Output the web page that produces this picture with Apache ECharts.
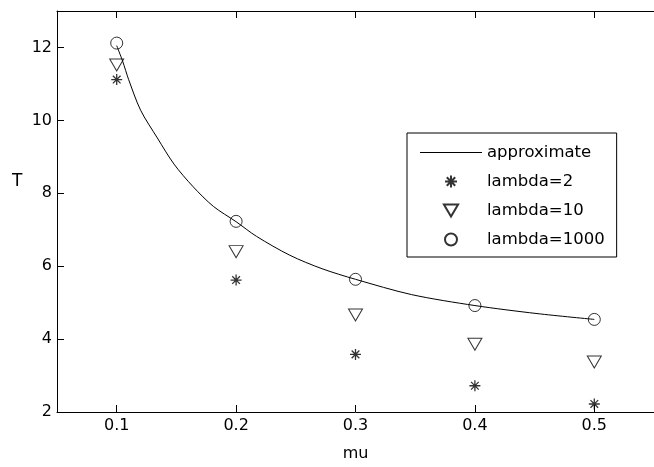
<!DOCTYPE html>
<html>
<head>
<meta charset="utf-8">
<script src="https://cdn.jsdelivr.net/npm/echarts@6/dist/echarts.min.js"></script>
<style>
  html, body { margin: 0; padding: 0; background: #fff; }
  #chart { width: 654px; height: 467px; }
</style>
</head>
<body>
<div id="chart"></div>
<script>
// x positions of the simulated points
var muValues = [0.1, 0.2, 0.3, 0.4, 0.5];
var lambda2 = [11.12, 5.62, 3.58, 2.72, 2.22];
var lambda10 = [11.52, 6.40, 4.66, 3.86, 3.37];
var lambda1000 = [12.12, 7.23, 5.64, 4.92, 4.54];

// approximate curve
var approxMu = [0.100, 0.105, 0.110, 0.120, 0.134, 0.148, 0.164, 0.181, 0.200,
                0.217, 0.245, 0.272, 0.300, 0.347, 0.400, 0.452, 0.500];
var approxT = [12.05, 11.62, 11.12, 10.28, 9.52, 8.80, 8.18, 7.64, 7.22,
               6.82, 6.30, 5.93, 5.64, 5.22, 4.92, 4.70, 4.54];

var xTicks = [0.1, 0.2, 0.3, 0.4, 0.5];
var yTicks = [2, 4, 6, 8, 10, 12];

function pairs(xs, ys) {
  return xs.map(function (x, i) { return [x, ys[i]]; });
}

var FONT = 'DejaVu Sans';
var STAR = 'path://M5,0L5,10M0,5L10,5M1.5,1.5L8.5,8.5M8.5,1.5L1.5,8.5';
var TRI = 'path://M0,0L13,0L6.5,11Z';
var LINE_ICON = 'path://M0,0L62,0L62,1L0,1Z';

var hollow = { color: 'rgba(0,0,0,0)', borderColor: '#000', borderWidth: 1 };

var chart = echarts.init(document.getElementById('chart'), null, { renderer: 'canvas' });

chart.setOption({
  animation: false,
  backgroundColor: '#fff',
  grid: { left: 57, right: -10, top: 11, bottom: 51 },
  xAxis: [{
    type: 'value',
    min: 0.05,
    max: 0.55,
    name: 'mu',
    nameLocation: 'middle',
    nameGap: 34,
    nameTextStyle: { fontFamily: FONT, fontSize: 16, color: '#000' },
    axisLine: { lineStyle: { color: '#000', width: 1 } },
    axisTick: { inside: true, length: 7, customValues: xTicks, lineStyle: { color: '#000' } },
    axisLabel: { customValues: xTicks, margin: 6, fontFamily: FONT, fontSize: 16, color: '#000' },
    splitLine: { show: false }
  }, {
    type: 'value',
    position: 'top',
    min: 0.05,
    max: 0.55,
    axisLine: { lineStyle: { color: '#000', width: 1 } },
    axisTick: { inside: true, length: 7, customValues: xTicks, lineStyle: { color: '#000' } },
    axisLabel: { show: false },
    splitLine: { show: false }
  }],
  yAxis: [{
    type: 'value',
    min: 2,
    max: 13,
    axisLine: { show: true, lineStyle: { color: '#000', width: 1 } },
    axisTick: { show: true, inside: true, length: 7, customValues: yTicks, lineStyle: { color: '#000' } },
    axisLabel: { customValues: yTicks, margin: 5, fontFamily: FONT, fontSize: 16, color: '#000' },
    splitLine: { show: false }
  }],
  graphic: [{
    type: 'text',
    left: 12,
    top: 173,
    style: { text: 'T', font: '17px "DejaVu Sans"', fill: '#000' }
  }],
  legend: {
    orient: 'vertical',
    left: 407,
    top: 133,
    padding: [11, 12, 9, 13],
    itemWidth: 62,
    itemHeight: 12,
    itemGap: 12,
    backgroundColor: '#fff',
    borderColor: '#000',
    borderWidth: 1,
    borderRadius: 0,
    textStyle: { fontFamily: FONT, fontSize: 16.5, color: '#000', lineHeight: 17 },
    data: [
      { name: 'approximate', icon: LINE_ICON, itemStyle: { color: '#000', borderWidth: 0 } },
      'lambda=2', 'lambda=10', 'lambda=1000'
    ]
  },
  series: [{
    name: 'approximate',
    type: 'line',
    symbol: 'none',
    smooth: 0.3,
    data: pairs(approxMu, approxT),
    lineStyle: { color: '#000', width: 1 },
    itemStyle: { color: '#000' },
    z: 2
  }, {
    name: 'lambda=2',
    type: 'scatter',
    symbol: STAR,
    symbolSize: 11,
    data: pairs(muValues, lambda2),
    itemStyle: { color: 'rgba(0,0,0,0)', borderColor: '#000', borderWidth: 1.3 },
    z: 3
  }, {
    name: 'lambda=10',
    type: 'scatter',
    symbol: TRI,
    symbolSize: [14, 12],
    data: pairs(muValues, lambda10),
    itemStyle: hollow,
    z: 3
  }, {
    name: 'lambda=1000',
    type: 'scatter',
    symbol: 'circle',
    symbolSize: 12,
    data: pairs(muValues, lambda1000),
    itemStyle: hollow,
    z: 3
  }]
});
</script>
</body>
</html>
